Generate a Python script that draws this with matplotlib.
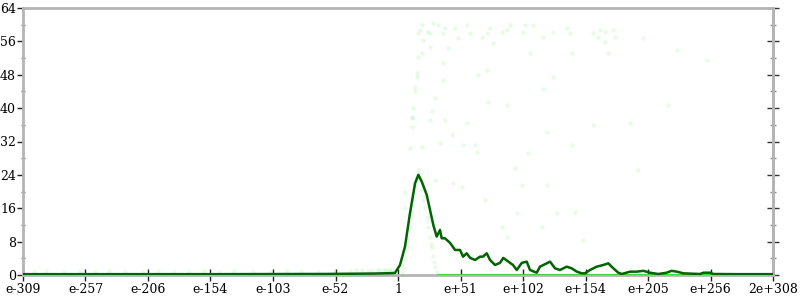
import numpy as np
import matplotlib
matplotlib.use('Agg')
import matplotlib.pyplot as plt
from matplotlib.ticker import MultipleLocator

# x is the decimal exponent, from e-309 up to 2e+308
tick_labels = ['e-309', 'e-257', 'e-206', 'e-154', 'e-103', 'e-52', '1',
               'e+51', 'e+102', 'e+154', 'e+205', 'e+256', '2e+308']
x_min, x_max = -309.0, 308.3

# dark green curve
line_x = [-309, -250, -150, -60, -20, -5, -2.8, 1.3, 5.4, 9.5, 13.7, 16.4, 19.2,
          23.3, 26.0, 28.7, 31.5, 34.2, 35.6, 38.3, 42.5, 46.6, 50.7, 53.2, 56.2,
          59.0, 63.1, 67.2, 69.6, 72.7, 75.4, 79.5, 83.6, 86.3, 90.5, 94.3, 97.4,
          101.5, 105.6, 108.3, 113.8, 116.5, 122.1, 124.8, 128.9, 133.0, 138.5,
          142.6, 146.8, 150.9, 153.6, 157.7, 163.2, 168.6, 172.7, 176.9, 181.0,
          183.8, 190.6, 196.1, 201.6, 207.1, 213.9, 220.8, 224.9, 229.1, 234.5,
          248.2, 251.0, 256.5, 259.2, 280, 308.3]
line_y = [0.2, 0.2, 0.2, 0.25, 0.35, 0.45, 0.5, 2.4, 6.8, 14.8, 22.0, 24.0, 22.4,
          19.2, 15.6, 12.0, 9.2, 10.8, 8.8, 8.8, 7.7, 6.0, 6.0, 4.4, 5.2,
          4.1, 3.6, 4.4, 4.4, 5.2, 3.6, 2.4, 2.9, 4.1, 3.2, 2.4, 1.2,
          2.9, 3.2, 1.2, 0.55, 2.0, 2.8, 3.2, 1.6, 1.2, 2.0,
          1.6, 0.8, 0.4, 0.4, 1.2, 2.0, 2.4, 2.8, 1.6, 0.55,
          0.24, 0.8, 0.8, 1.0, 0.55, 0.24, 0.55, 1.0, 0.8, 0.4,
          0.24, 0.55, 0.55, 0.24, 0.2, 0.2]

# faint light green points
pts_x = [19.2, 28.7, 32.8, 23.3, 20.5, 26.0, 37.0, 38.4, 46.6, 49.3, 56.2, 58.9,
         68.5, 75.4, 72.7, 78.1, 85.0, 89.1, 91.8, 104.2, 111.0, 102.8, 119.3,
         127.5, 138.5, 141.2, 26.0, 19.2, 16.4, 41.1, 108.3, 142.6, 37.0, 72.7,
         65.8, 15.0, 13.7, 37.0, 127.5, 119.3, 30.1, 74.0, 89.1, 12.3, 27.4, 10.9,
         160.4, 165.9, 170.0, 176.9, 164.5, 170.0, 178.3, 172.7, 201.6, 229.1,
         253.8, 222.1,
         10.9, 10.9, 26.0, 38.4, 56.2, 43.9, 9.5, 19.2, 34.2, 53.4, 63.1, 64.4,
         122.1, 142.6, 106.9, 96.0, 30.1, 45.2, 52.1, 101.5, 122.1, 5.4, 71.3,
         5.4, 97.4, 145.4, 160.4, 190.6, 197.5, 89.1, 85.0, 117.9, 130.3, 152.2,
         16.4, 18.0, 13.7, 15.0,
         3.0, 5.4, 6.8, 8.2, 9.5, 10.9, 12.3, 13.7, 15.0, 16.4, 17.8, 19.2, 20.6,
         22.0, 23.3, 24.7, 26.0, 27.4, 28.7, 30.1, 31.5,
         4.0, 7.5, 11.5, 14.5, 17.0, 21.0, 24.0, 27.0, 29.5,
         -300, -290, -275, -262, -250, -238, -225, -210, -198, -185, -172, -160,
         -148, -135, -120, -105, -92, -80, -66, -52, -40, -30, -22, -15, -10, -6,
         -35, -25, -18, -12, -8, -3]
pts_y = [59.9, 60.3, 59.9, 58.3, 56.3, 57.9, 57.9, 59.1, 59.1, 56.7, 59.9, 57.9,
         57.1, 59.1, 57.9, 55.5, 58.3, 58.7, 59.9, 59.9, 59.9, 58.3, 57.1,
         58.3, 59.1, 57.9, 54.7, 53.1, 52.3, 54.3, 53.1, 53.1, 50.7, 49.1,
         47.9, 47.5, 45.1, 46.7, 47.5, 44.7, 42.4, 41.5, 40.7, 40.0, 39.2, 37.9,
         57.9, 58.7, 58.3, 58.7, 57.1, 55.9, 57.1, 53.1, 56.7, 53.9,
         51.5, 40.7,
         37.6, 35.5, 37.2, 37.2, 36.4, 33.6, 30.4, 30.8, 31.6, 31.2, 31.2, 29.6,
         34.3, 31.2, 29.2, 25.6, 22.8, 22.0, 21.2, 21.6, 21.6, 20.0, 18.0,
         16.0, 14.8, 15.2, 36.0, 36.4, 25.2, 9.2, 11.6, 11.6, 14.8, 8.4,
         57.9, 58.8, 44.0, 48.5,
         0.8, 3.5, 6.0, 8.5, 11.5, 15.0, 18.0, 21.5, 24.0, 25.2, 23.0, 20.4, 18.0,
         16.4, 14.0, 11.6, 9.0, 6.8, 4.5, 2.0, 0.8,
         2.0, 7.0, 16.5, 23.0, 24.5, 19.0, 13.0, 7.5, 3.0,
         0.8, 0.9, 0.7, 0.9, 0.8, 0.9, 0.7, 0.8, 0.9, 0.8, 0.7, 0.9,
         0.8, 0.9, 0.7, 0.8, 0.9, 0.8, 0.7, 0.9, 1.0, 1.1, 1.0, 1.2, 1.1, 1.2,
         1.1, 1.0, 1.2, 1.1, 1.2, 1.0]

# dense run of points sitting on zero
zero_x = [31.5, 308.3]
zero_y = [0.05, 0.05]

plt.rcParams['font.family'] = ['DejaVu Serif']

fig = plt.figure(figsize=(8, 3), dpi=100)
ax = fig.add_axes([23 / 800, 25 / 300, 750 / 800, 267 / 300])

ax.scatter(pts_x, pts_y, s=10, color='#33dd33', alpha=0.11, linewidths=0, zorder=2)
ax.plot(zero_x, zero_y, color='#3ad83a', lw=2.2, solid_capstyle='butt', zorder=3)
ax.plot(line_x, line_y, color='#006400', lw=1.8, zorder=4)

ax.set_xlim(x_min, x_max)
ax.set_ylim(0, 64)

ax.set_xticks(np.linspace(x_min, x_max, len(tick_labels)))
ax.set_xticklabels(tick_labels)
ax.yaxis.set_major_locator(MultipleLocator(8))
ax.yaxis.set_minor_locator(MultipleLocator(4))

for s in ax.spines.values():
    s.set_color('#b4b4b4')
    s.set_linewidth(2)

ax.tick_params(axis='x', direction='inout', length=9, width=1, color='#222222',
               labelsize=9, pad=1)
ax.tick_params(axis='y', which='major', direction='out', length=4, width=1,
               color='#222222', labelsize=9, pad=1)
ax.tick_params(axis='y', which='minor', direction='inout', length=3, width=1,
               color='#777777')

# right side ticks, without labels
ax2 = ax.secondary_yaxis('right')
ax2.yaxis.set_major_locator(MultipleLocator(8))
ax2.yaxis.set_minor_locator(MultipleLocator(4))
ax2.tick_params(which='major', direction='inout', length=8, width=1,
                color='#333333', labelright=False)
ax2.tick_params(which='minor', direction='inout', length=4, width=1,
                color='#888888')
ax2.spines['right'].set_color('#b4b4b4')
ax2.spines['right'].set_linewidth(2)

fig.savefig('out.png', dpi=100)
